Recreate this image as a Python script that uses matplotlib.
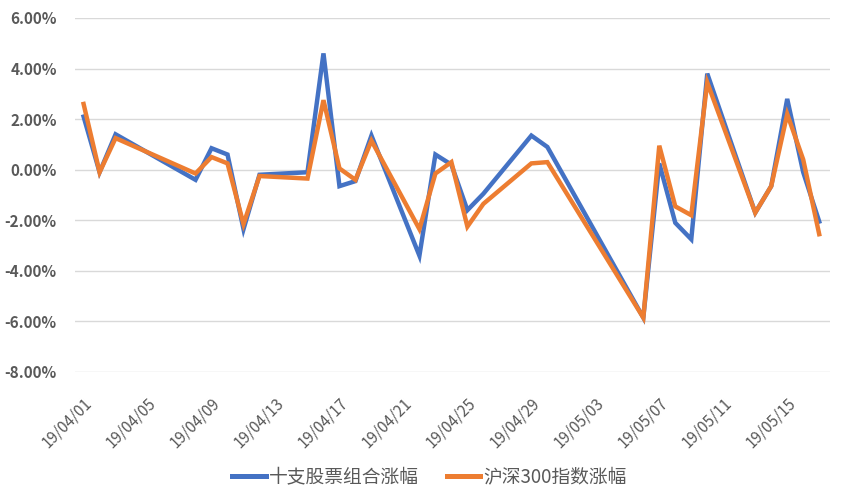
import matplotlib
matplotlib.use("Agg")
import matplotlib.pyplot as plt
import matplotlib.dates as mdates
from matplotlib.ticker import FuncFormatter, MultipleLocator
import datetime as dt

dates = ["2019-04-01", "2019-04-02", "2019-04-03", "2019-04-08", "2019-04-09", "2019-04-10",
         "2019-04-11", "2019-04-12", "2019-04-15", "2019-04-16", "2019-04-17", "2019-04-18",
         "2019-04-19", "2019-04-22", "2019-04-23", "2019-04-24", "2019-04-25", "2019-04-26",
         "2019-04-29", "2019-04-30", "2019-05-06", "2019-05-07", "2019-05-08", "2019-05-09",
         "2019-05-10", "2019-05-13", "2019-05-14", "2019-05-15", "2019-05-16", "2019-05-17"]
portfolio = [2.1, -0.1, 1.4, -0.4, 0.85, 0.6, -2.35, -0.2, -0.1, 4.6, -0.65, -0.45, 1.35, -3.4,
             0.6, 0.2, -1.6, -0.95, 1.35, 0.9, -5.85, 0.25, -2.1, -2.75, 3.8, -1.7, -0.65, 2.8,
             -0.1, -2.05]
hs300 = [2.6, -0.1, 1.25, -0.15, 0.5, 0.25, -2.15, -0.25, -0.35, 2.75, 0.05, -0.4, 1.15, -2.35,
         -0.15, 0.3, -2.25, -1.35, 0.25, 0.3, -5.85, 0.95, -1.45, -1.8, 3.45, -1.7, -0.65, 2.2,
         0.4, -2.55]
series_names = ["十支股票组合涨幅", "沪深300指数涨幅"]

plt.rcParams['font.family'] = ['Noto Sans CJK SC', 'DejaVu Sans']

x = [dt.datetime.strptime(d, "%Y-%m-%d") for d in dates]

fig = plt.figure(figsize=(8.5, 5), dpi=100)
ax = fig.add_axes([0.088, 0.256, 0.888, 0.708])

ax.plot(x, portfolio, color="#4472C4", lw=3.2, label=series_names[0], solid_joinstyle="miter")
ax.plot(x, hs300, color="#ED7D31", lw=3.2, label=series_names[1], solid_joinstyle="miter")

ax.set_ylim(-8, 6)
ax.yaxis.set_major_locator(MultipleLocator(2))
ax.yaxis.set_major_formatter(FuncFormatter(lambda v, p: f"{v:.2f}%"))
ax.grid(axis="y", color="#d9d9d9", lw=1)
ax.set_axisbelow(True)
for s in ax.spines.values():
    s.set_visible(False)

ax.set_xlim(x[0] - dt.timedelta(days=0.55), x[-1] + dt.timedelta(days=0.65))
ticks = [x[0] + dt.timedelta(days=4 * i) for i in range(12)]
ax.set_xticks(ticks)
ax.xaxis.set_major_formatter(mdates.DateFormatter("%y/%m/%d"))
ax.tick_params(axis="both", length=0, colors="#595959")
ax.tick_params(axis="y", labelsize=11, pad=13)
ax.tick_params(axis="x", labelsize=11, pad=16)
for lab in ax.get_xticklabels():
    lab.set_rotation(45)
    lab.set_ha("right")
    lab.set_rotation_mode("anchor")
for lab in ax.get_yticklabels():
    lab.set_fontweight("semibold")

leg = fig.legend(loc="center", bbox_to_anchor=(0.505, 0.046), ncol=2, frameon=False,
                 fontsize=13.5, handlelength=1.8, columnspacing=1.5, handletextpad=0.15)
for line in leg.get_lines():
    line.set_linewidth(3.6)
for t in leg.get_texts():
    t.set_color("#595959")

fig.savefig("out.png", dpi=100, facecolor="white")
